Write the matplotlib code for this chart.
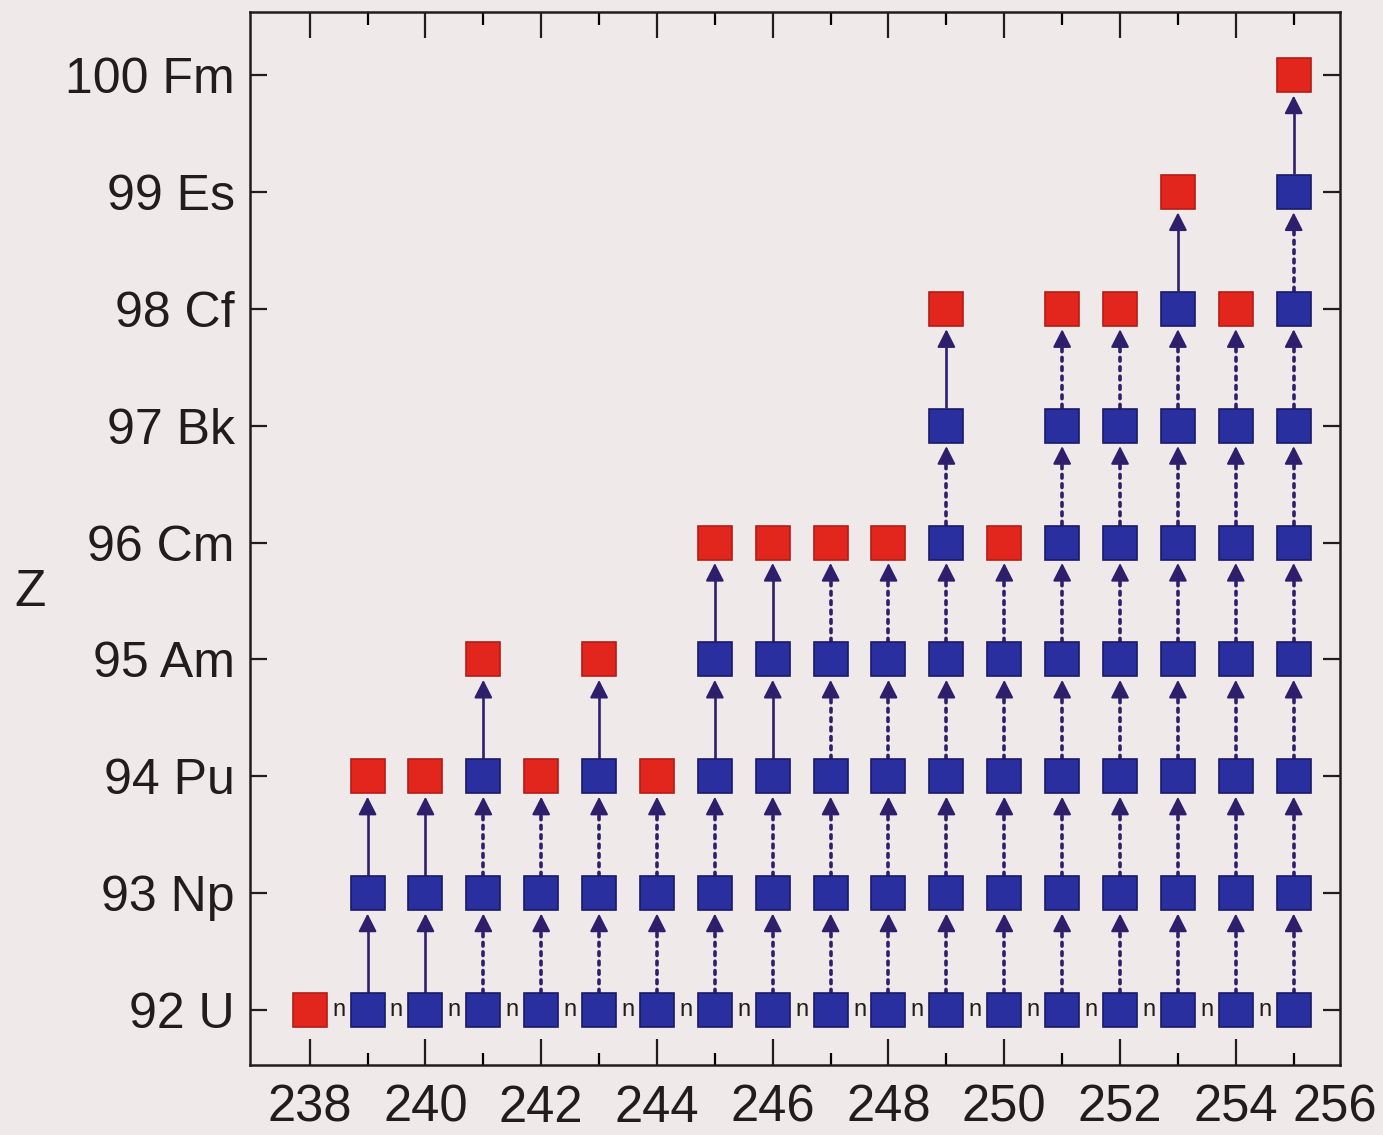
import matplotlib
matplotlib.use('Agg')
import matplotlib.pyplot as plt

# mass number of each column, the Z reached at the top (red box),
# and the Z from which the beta-decay arrows are drawn solid (None = all dotted)
mass = [238, 239, 240, 241, 242, 243, 244, 245, 246,
        247, 248, 249, 250, 251, 252, 253, 254, 255]
top_z = [92, 94, 94, 95, 94, 95, 94, 96, 96,
         96, 96, 98, 96, 98, 98, 99, 98, 100]
solid_from = [None, 92, 92, 94, None, 94, None, 94, 94,
              None, None, 97, None, None, None, 98, None, 99]

z_ticks = [92, 93, 94, 95, 96, 97, 98, 99, 100]
z_labels = ['92 U', '93 Np', '94 Pu', '95 Am', '96 Cm',
            '97 Bk', '98 Cf', '99 Es', '100 Fm']
x_ticks = [238, 240, 242, 244, 246, 248, 250, 252, 254]

bg = '#efe9ea'
blue = '#2a2f9f'
red = '#e2261d'
arrow_col = '#2d1f6c'
ink = '#221c1c'

plt.rcParams['font.family'] = ['Liberation Sans', 'DejaVu Sans']

fig = plt.figure(figsize=(13.83, 11.35), dpi=100, facecolor=bg)
ax = fig.add_axes([0.1808, 0.0617, 0.7881, 0.9277], facecolor=bg)

half = 0.15       # half box height in Z units
head = 0.12       # arrow head length in Z units

for a, zt, zs in zip(mass, top_z, solid_from):
    # arrows between consecutive Z in this column
    for z in range(92, zt):
        solid = zs is not None and z >= zs
        y0 = z + half
        y1 = z + 1 - half - 0.025
        ax.plot([a, a], [y0, y1 - head + 0.01], color=arrow_col,
                lw=1.9 if solid else 2.6,
                linestyle='-' if solid else (0, (1.0, 1.6)),
                solid_capstyle='butt', dash_capstyle='round', zorder=2)
        ax.annotate('', xy=(a, y1), xytext=(a, y1 - head),
                    arrowprops=dict(arrowstyle='-|>,head_length=0.55,head_width=0.28',
                                    color=arrow_col, lw=1.5, shrinkA=0, shrinkB=0,
                                    mutation_scale=20),
                    zorder=3)
    # boxes: blue for intermediate, red for the end of the chain
    blues = list(range(92, zt))
    ax.plot([a] * len(blues), blues, linestyle='none', marker='s',
            markersize=24.5, markerfacecolor=blue, markeredgecolor='#1b1a66',
            markeredgewidth=1.2, zorder=4)
    ax.plot([a], [zt], linestyle='none', marker='s', markersize=25,
            markerfacecolor=red, markeredgecolor='#b51c16',
            markeredgewidth=1.2, zorder=4)

# neutron capture labels along the uranium row
for a in mass[:-1]:
    ax.text(a + 0.5, 92, 'n', ha='center', va='center', fontsize=17,
            color=ink, zorder=5)

ax.set_xlim(236.97, 255.8)
ax.set_ylim(91.53, 100.54)

ax.set_xticks(x_ticks)
ax.set_xticks([m for m in mass if m % 2 == 1], minor=True)
ax.set_xticklabels([str(t) for t in x_ticks])
ax.set_yticks(z_ticks)
ax.set_yticklabels(z_labels)

xpad = 13.5
ax.tick_params(axis='x', which='major', direction='in', length=19, width=1.6,
               top=True, bottom=True, labelsize=36.5, pad=xpad, colors=ink)
ax.tick_params(axis='x', which='minor', direction='in', length=9, width=1.6,
               top=True, bottom=True)
ax.tick_params(axis='y', which='major', direction='in', length=12, width=1.6,
               left=True, right=True, labelsize=36, pad=11, colors=ink)

# 256 sits on the right edge of the frame, below the last column
ax.annotate('256', xy=(0.995, 0), xycoords='axes fraction',
            xytext=(0, -xpad), textcoords='offset points',
            ha='center', va='top', fontsize=36.5, color=ink)

ax.set_ylabel('Z', rotation=0, fontsize=37, color=ink, va='center', ha='center')
ax.yaxis.set_label_coords(-0.202, 0.449)

for s in ax.spines.values():
    s.set_linewidth(1.8)
    s.set_color(ink)

fig.savefig('out.png', dpi=100, facecolor=bg)
